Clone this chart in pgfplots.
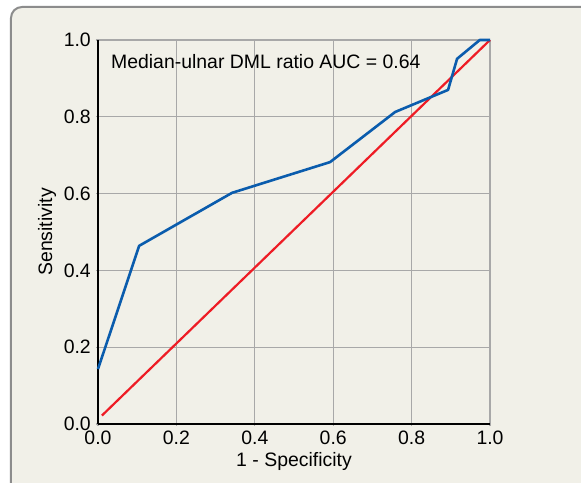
\documentclass[border=0pt]{standalone}
\usepackage{pgfplots}
\pgfplotsset{compat=1.18}
\usepackage{fontspec}
\setmainfont{Liberation Sans}
\definecolor{bgc}{HTML}{F1F0E8}
\definecolor{framec}{HTML}{8C8C8C}
\definecolor{gridc}{HTML}{A8A8A8}
\definecolor{rocblue}{HTML}{0A5CAD}
\definecolor{rocred}{HTML}{EE1C25}
\begin{document}
\begin{tikzpicture}[x=1bp,y=1bp]
\useasboundingbox (-98,-59) rectangle (483,424);
\begin{scope}
\clip (-98,-59) rectangle (483,424);
\fill[white] (-98,-59) rectangle (483,424);
\draw[framec, line width=2bp, fill=bgc, rounded corners=11bp] (-87,417) rectangle (520,-100);
\end{scope}
\begin{axis}[
  at={(0,0)}, anchor=origin,
  scale only axis, width=392bp, height=384bp,
  xmin=0, xmax=1, ymin=0, ymax=1,
  axis x line*=bottom, axis y line*=left,
  axis line style={black, line width=1.2bp},
  xtick={0,0.2,...,1}, ytick={0,0.2,...,1},
  xticklabels={0.0,0.2,0.4,0.6,0.8,1.0},
  yticklabels={0.0,0.2,0.4,0.6,0.8,1.0},
  tick align=outside, major tick length=2bp,
  tick style={gridc, line width=1.2bp},
  grid=major, grid style={gridc, line width=1.2bp},
  ticklabel style={font=\fontsize{19.5}{23}\selectfont, inner sep=0pt},
  /pgf/number format/assume math mode=true,
  xticklabel style={yshift=-5bp},
  yticklabel style={xshift=-5bp},
  xlabel={1 - Specificity}, ylabel={Sensitivity},
  label style={font=\fontsize{19.5}{23}\selectfont},
  xlabel style={at={(axis description cs:0.5,0)}, anchor=center, yshift=-37bp},
  ylabel style={at={(axis description cs:0,0.5)}, anchor=center, yshift=51bp},
  clip=false,
]
\addplot[rocred, line width=2.2bp] coordinates {(0.01,0.022) (1,1)};
\addplot[rocblue, line width=2.6bp, line join=round] coordinates {
(0,0.143) (0.105,0.464) (0.342,0.602) (0.592,0.682) (0.758,0.8125)
(0.893,0.870) (0.916,0.951) (0.974,1.0) (1.0,1.0)};
\node[anchor=west, font=\fontsize{19.5}{23}\selectfont, inner sep=0pt] at (axis cs:0.033,0.943) {Median-ulnar DML ratio AUC = 0.64};
\end{axis}
\end{tikzpicture}
\end{document}
